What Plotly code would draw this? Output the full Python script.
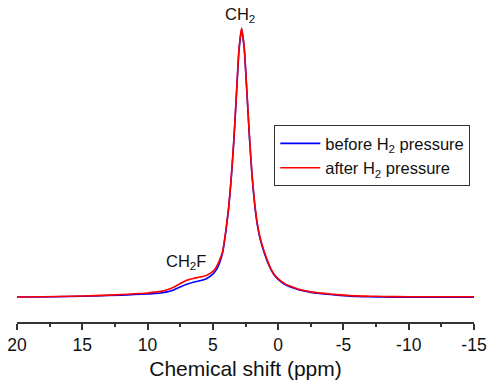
import plotly.graph_objects as go

shift_ppm = [20, 18, 16, 14, 12, 11, 10, 9.5, 9, 8.5, 8, 7.5, 7, 6.5, 6, 5.5, 5, 4.75,
             4.5, 4.25, 4.0, 3.8, 3.6, 3.4, 3.2, 3.0, 2.8, 2.6, 2.4, 2.2, 2.0, 1.8, 1.6,
             1.4, 1.2, 1.0, 0.8, 0.5, 0.2, -0.2, -0.6, -1.0, -1.5, -2, -2.5, -3, -4, -5,
             -6, -7, -8, -10, -12, -14, -15]

after_h2 = [0.0, 0.001, 0.003, 0.005, 0.009, 0.012, 0.015, 0.018, 0.021, 0.027, 0.036,
            0.05, 0.062, 0.069, 0.074, 0.08, 0.095, 0.11, 0.135, 0.17, 0.25, 0.33, 0.44,
            0.58, 0.75, 0.92, 1.0, 0.93, 0.77, 0.6, 0.455, 0.35, 0.275, 0.225, 0.19, 0.16,
            0.133, 0.1, 0.078, 0.06, 0.047, 0.039, 0.03, 0.024, 0.019, 0.016, 0.011,
            0.007, 0.004, 0.003, 0.002, 0.001, 0.001, 0.001, 0.001]

before_h2 = [0.0, 0.0, 0.002, 0.004, 0.007, 0.009, 0.011, 0.013, 0.015, 0.019, 0.026,
             0.037, 0.047, 0.055, 0.06, 0.068, 0.085, 0.1, 0.125, 0.165, 0.245, 0.325,
             0.435, 0.575, 0.745, 0.915, 0.995, 0.925, 0.765, 0.595, 0.45, 0.345, 0.27,
             0.22, 0.185, 0.155, 0.128, 0.097, 0.075, 0.057, 0.044, 0.036, 0.028, 0.022,
             0.017, 0.014, 0.009, 0.005, 0.002, 0.001, 0.0, -0.001, -0.001, -0.001, -0.001]

series_names = ["before H<sub>2</sub> pressure", "after H<sub>2</sub> pressure"]
peak_labels = ["CH<sub>2</sub>", "CH<sub>2</sub>F"]
peak_pos = [2.9, 7.05]
peak_h = [1.05, 0.13]
tick_vals = [20, 15, 10, 5, 0, -5, -10, -15]

FONT = "Liberation Sans, Arial, sans-serif"

fig = go.Figure()
fig.add_trace(go.Scatter(x=shift_ppm, y=before_h2, mode="lines", name=series_names[0],
                         line=dict(color="#0000ff", width=1.6, shape="spline", smoothing=0.5)))
fig.add_trace(go.Scatter(x=shift_ppm, y=after_h2, mode="lines", name=series_names[1],
                         line=dict(color="#ff0000", width=1.6, shape="spline", smoothing=0.5)))

for lab, xp, yp in zip(peak_labels, peak_pos, peak_h):
    fig.add_annotation(x=xp, y=yp, text=lab, showarrow=False,
                       font=dict(family=FONT, size=16.5, color="#111"),
                       xanchor="center", yanchor="middle")

fig.update_layout(
    width=487, height=386,
    margin=dict(l=17, r=13, t=10, b=64, autoexpand=False),
    paper_bgcolor="white", plot_bgcolor="white",
    font=dict(family=FONT, size=16, color="#111"),
    showlegend=True,
    legend=dict(x=0.563, y=0.631, xanchor="left", yanchor="top",
                bordercolor="#333", borderwidth=1, bgcolor="white",
                font=dict(family=FONT, size=16.5, color="#111"),
                tracegroupgap=0, itemwidth=40),
    xaxis=dict(range=[20, -15], tickvals=tick_vals,
               ticktext=[str(v) for v in tick_vals],
               automargin=False,
               showgrid=False, zeroline=False, showline=True,
               linecolor="#333", linewidth=1.5, mirror=False,
               ticks="outside", ticklen=6, tickwidth=1.5, tickcolor="#333",
               tickfont=dict(family=FONT, size=17.5, color="#111"),
               minor=dict(dtick=2.5, tick0=0, ticks="outside", ticklen=3,
                          tickwidth=1.5, tickcolor="#333"),
               title=dict(text="Chemical shift (ppm)", standoff=8,
                          font=dict(family=FONT, size=21, color="#111"))),
    yaxis=dict(range=[-0.093, 1.067], visible=False),
)

fig.write_html("out.html")
